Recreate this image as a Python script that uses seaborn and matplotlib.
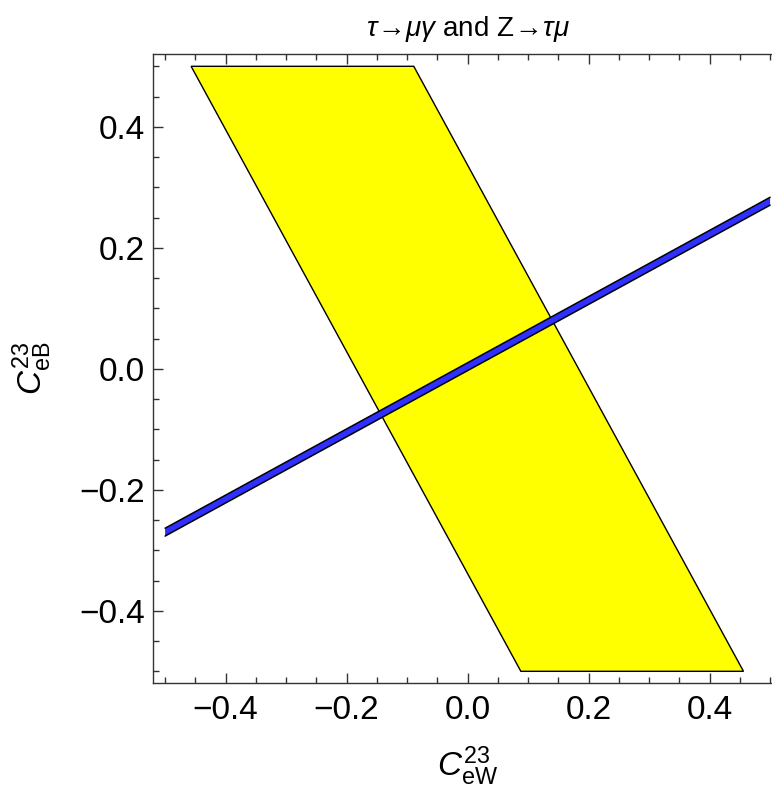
import numpy as np
import pandas as pd
import seaborn as sns
import matplotlib.pyplot as plt
from matplotlib.ticker import MultipleLocator

# --- data ---
# allowed strip from tau -> mu gamma (corners, clockwise)
region_x = [-0.457, -0.089, 0.456, 0.088]
region_y = [0.5, 0.5, -0.5, -0.5]

# narrow allowed band from Z -> tau mu
band_x = [-0.5, 0.5]
band_lo = [-0.2765, 0.2705]
band_hi = [-0.2635, 0.2835]

x_ticks = [-0.4, -0.2, 0.0, 0.2, 0.4]
y_ticks = [-0.4, -0.2, 0.0, 0.2, 0.4]

# --- style ---
sns.set_style('ticks')
plt.rcParams['font.family'] = ['Liberation Sans', 'DejaVu Sans']
plt.rcParams['mathtext.fontset'] = 'custom'
plt.rcParams['mathtext.rm'] = 'Liberation Sans'
plt.rcParams['mathtext.it'] = 'Liberation Sans:italic'
plt.rcParams['mathtext.bf'] = 'Liberation Sans:bold'
plt.rcParams['text.color'] = 'black'
plt.rcParams['axes.labelcolor'] = 'black'

frame_col = '#333333'

fig = plt.figure(figsize=(7.72, 7.90), dpi=100)
# the frame runs past the right edge of the picture, as in the reference
ax = fig.add_axes([153 / 772, 106.6 / 790, 629.2 / 772, 629.2 / 790])

# yellow region
ax.fill(region_x, region_y, facecolor='#ffff00', edgecolor='black', linewidth=1.0, zorder=2)

# blue band with black outline
ax.fill_between(band_x, band_lo, band_hi, facecolor='#2f2fff', edgecolor='none', zorder=3)
edges = pd.DataFrame({'x': band_x * 2,
                      'y': band_lo + band_hi,
                      'edge': ['lo', 'lo', 'hi', 'hi']})
sns.lineplot(data=edges, x='x', y='y', units='edge', estimator=None,
             color='black', linewidth=1.1, ax=ax, zorder=4, legend=False)

ax.set_xlim(-0.52, 0.52)
ax.set_ylim(-0.52, 0.52)

ax.xaxis.set_minor_locator(MultipleLocator(0.05))
ax.yaxis.set_minor_locator(MultipleLocator(0.05))
ax.set_xticks(x_ticks)
ax.set_yticks(y_ticks)
ax.set_xticklabels([f'{v:.1f}'.replace('-', '\u2212') for v in x_ticks])
ax.set_yticklabels([f'{v:.1f}'.replace('-', '\u2212') for v in y_ticks])

ax.tick_params(which='both', direction='in', top=True, right=True,
               color=frame_col, width=1.0, labelsize=24, labelcolor='black')
ax.tick_params(which='major', length=7)
ax.tick_params(which='minor', length=4)
ax.tick_params(axis='x', which='major', pad=8)
ax.tick_params(axis='y', which='major', pad=6)

for s in ax.spines.values():
    s.set_color(frame_col)
    s.set_linewidth(1.0)

ax.set_xlabel(r'$C^{23}_{\mathrm{eW}}$', fontsize=24, labelpad=14)
ax.set_ylabel(r'$C^{23}_{\mathrm{eB}}$', fontsize=24, labelpad=18)
ax.set_title(r'$\tau\!\rightarrow\!\mu\gamma$ and Z$\!\rightarrow\!\tau\mu$',
             fontsize=20, pad=13, color='black')

fig.savefig('out.png', dpi=100)
